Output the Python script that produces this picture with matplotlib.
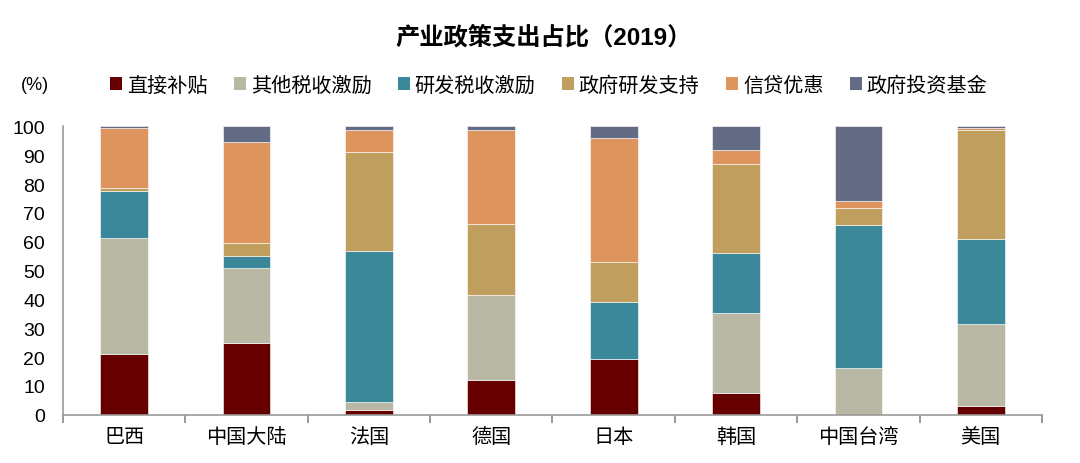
import matplotlib
matplotlib.use("Agg")
import matplotlib.pyplot as plt
import numpy as np
from matplotlib.patches import Patch

plt.rcParams['font.family'] = ['Liberation Sans', 'Noto Sans CJK SC', 'DejaVu Sans']

categories = ['巴西', '中国大陆', '法国', '德国', '日本', '韩国', '中国台湾', '美国']
series_names = ['直接补贴', '其他税收激励', '研发税收激励', '政府研发支持', '信贷优惠', '政府投资基金']
direct_subsidy   = [21.0, 24.9, 1.8, 12.0, 19.3, 7.4, 0.0, 2.9]
other_tax        = [40.2, 25.9, 2.7, 29.5, 0.0, 28.0, 16.2, 28.7]
rd_tax           = [16.3, 4.3, 52.1, 0.0, 19.9, 20.8, 49.7, 29.2]
gov_rd_support   = [1.2, 4.6, 34.6, 24.7, 13.9, 30.6, 5.9, 38.0]
credit           = [20.7, 35.0, 7.6, 32.6, 42.9, 5.1, 2.4, 0.6]
gov_fund         = [0.6, 5.3, 1.2, 1.2, 4.0, 8.1, 25.8, 0.6]
yticks = [0, 10, 20, 30, 40, 50, 60, 70, 80, 90, 100]

colors = ['#660000', '#B9B8A5', '#3C889B', '#BF9E5E', '#DE945D', '#646B84']
series = [direct_subsidy, other_tax, rd_tax, gov_rd_support, credit, gov_fund]

fig = plt.figure(figsize=(10.8, 4.64), dpi=100)
ax = fig.add_axes([0.0583, 0.104, 0.9065, 0.6216])

x = np.arange(len(categories))
bottom = np.zeros(len(categories))
for vals, c, name in zip(series, colors, series_names):
    ax.bar(x, vals, 0.39, bottom=bottom, color=c, edgecolor='white', linewidth=0.4, label=name)
    bottom += np.array(vals)

ax.set_xlim(-0.5, len(categories) - 0.5)
ax.set_ylim(0, 100)
ax.set_yticks(yticks)
ax.set_yticklabels([str(t) for t in yticks], fontsize=14)
ax.tick_params(axis='y', length=0, pad=13)
ax.set_xticks(x)
ax.set_xticklabels(categories, fontsize=14.5)
ax.set_xticks(np.arange(-0.5, len(categories)), minor=True)
ax.tick_params(axis='x', which='major', length=0, pad=9)
ax.tick_params(axis='x', which='minor', length=6, color='#888888', width=1.2)
for s in ['top', 'right']:
    ax.spines[s].set_visible(False)
for s in ['left', 'bottom']:
    ax.spines[s].set_color('#999999')
    ax.spines[s].set_linewidth(1.2)

fig.text(0.503, 0.918, '产业政策支出占比（2019）', ha='center', va='center', fontsize=17.5, fontweight='bold')
fig.text(0.019, 0.815, '(%)', ha='left', va='center', fontsize=13)

handles = [Patch(facecolor=c, edgecolor='none') for c in colors]
fig.legend(handles, series_names, loc='center', bbox_to_anchor=(0.508, 0.815), ncol=6,
           frameon=False, fontsize=14.5, handlelength=0.6, handleheight=0.6,
           handletextpad=0.25, columnspacing=1.3)

fig.savefig('out.png', dpi=100)
